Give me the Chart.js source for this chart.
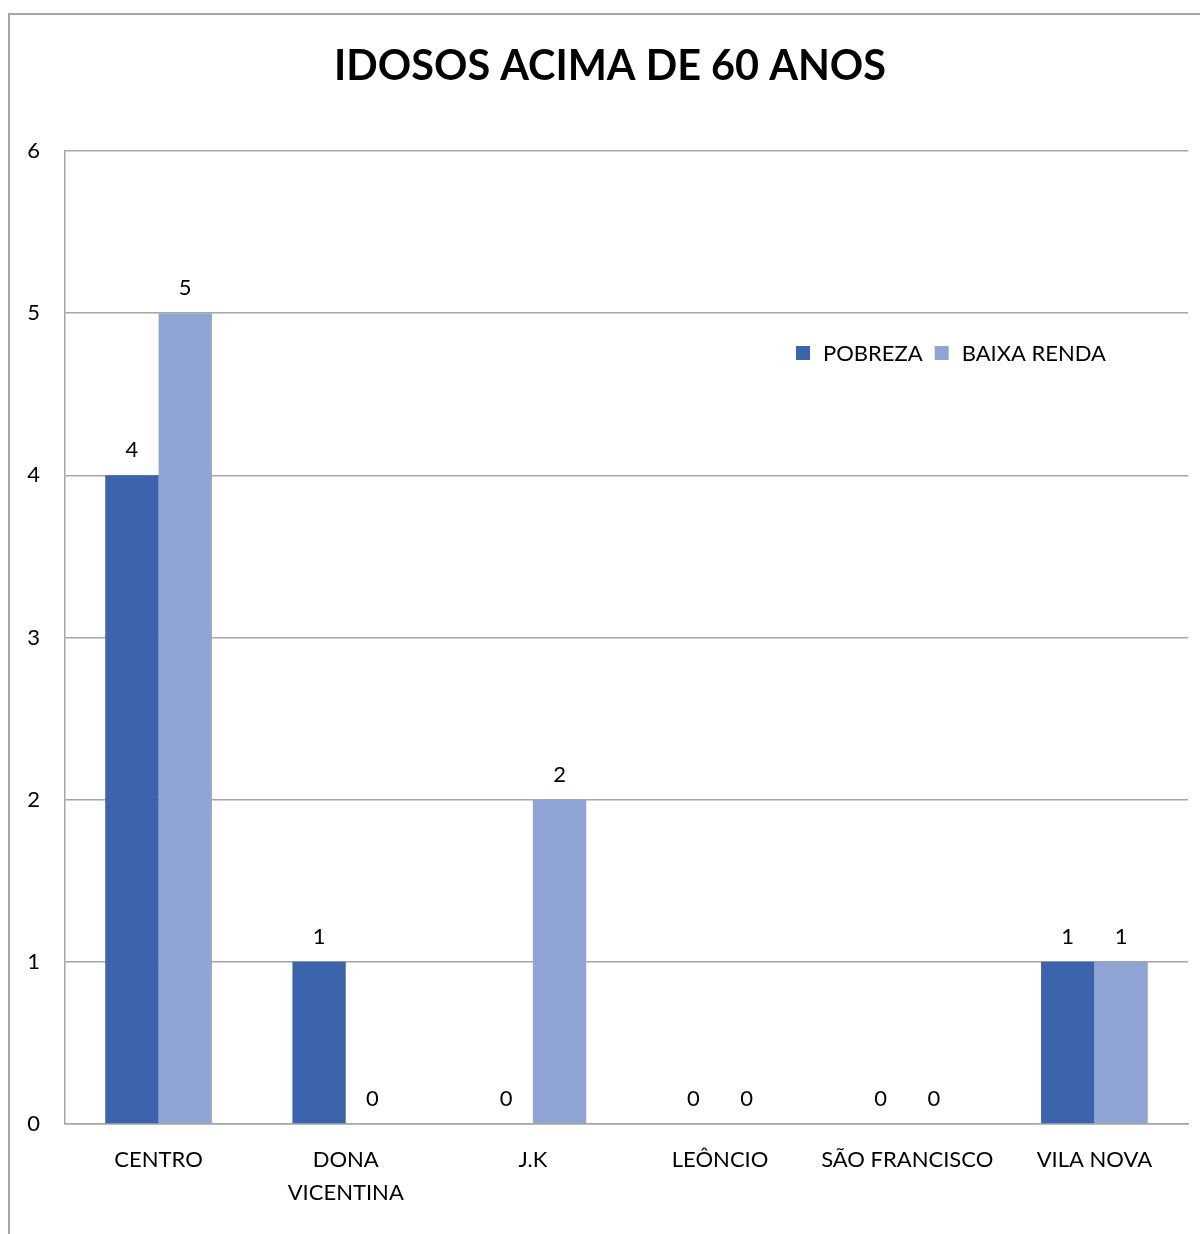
<!DOCTYPE html>
<html><head><meta charset="utf-8">
<script src="https://cdn.jsdelivr.net/npm/chart.js@4"></script>
<style>
html,body{margin:0;padding:0;background:#fff;}
#wrap{position:relative;width:1200px;height:1234px;}
#frame{position:absolute;left:8px;top:13px;width:1200px;height:1240px;border-left:2px solid #A6A6A6;border-top:2px solid #A6A6A6;box-sizing:border-box;}
canvas{position:absolute;left:0;top:0;}
</style></head>
<body><div id="wrap"><div id="frame"></div><canvas id="c" width="1200" height="1234"></canvas></div>
<script>
const title = 'IDOSOS ACIMA DE 60 ANOS';
const categories = ['CENTRO', ['DONA','VICENTINA'], 'J.K', 'LEÔNCIO', 'SÃO FRANCISCO', 'VILA NOVA'];
const seriesNames = ['POBREZA', 'BAIXA RENDA'];
const pobreza = [4, 1, 0, 0, 0, 1];
const baixaRenda = [5, 0, 2, 0, 0, 1];
const yTicks = [0, 1, 2, 3, 4, 5, 6];

const colors = ['#3C64AD', '#91A5D5'];
const FONT = 'Lato, "Open Sans", sans-serif';

const overlay = {
  id: 'overlay',
  afterDraw(chart) {
    const ctx = chart.ctx;
    ctx.save();
    // title
    let size = 44;
    ctx.font = `bold ${size}px ${FONT}`;
    const w = ctx.measureText(title).width;
    size = Math.min(48, size * 552 / w);
    ctx.font = `bold ${size}px ${FONT}`;
    ctx.fillStyle = '#000';
    ctx.textAlign = 'center';
    ctx.textBaseline = 'middle';
    ctx.fillText(title, 610, 67);
    // data labels
    ctx.font = `22px ${FONT}`;
    ctx.textBaseline = 'alphabetic';
    chart.data.datasets.forEach((ds, i) => {
      const meta = chart.getDatasetMeta(i);
      meta.data.forEach((bar, j) => {
        ctx.fillText(String(ds.data[j]), bar.x, bar.y - 18);
      });
    });
    // legend
    ctx.textAlign = 'left';
    ctx.textBaseline = 'middle';
    let x = 796; const y = 353;
    chart.data.datasets.forEach((ds, i) => {
      ctx.fillStyle = ds.backgroundColor;
      ctx.fillRect(x, y - 7, 14, 14);
      ctx.fillStyle = '#000';
      ctx.fillText(ds.label, x + 27, y + 1);
      x += 27 + ctx.measureText(ds.label).width + 12;
    });
    ctx.restore();
  }
};

new Chart(document.getElementById('c'), {
  type: 'bar',
  data: {
    labels: categories,
    datasets: [
      { label: seriesNames[0], data: pobreza, backgroundColor: colors[0] },
      { label: seriesNames[1], data: baixaRenda, backgroundColor: colors[1] }
    ]
  },
  options: {
    responsive: false,
    animation: false,
    devicePixelRatio: 1,
    layout: { padding: { top: 151, right: 12, left: 0, bottom: 0 } },
    plugins: { legend: { display: false }, title: { display: false }, tooltip: { enabled: false } },
    datasets: { bar: { categoryPercentage: 0.57, barPercentage: 1.0 } },
    scales: {
      x: {
        grid: { display: false, drawTicks: false },
        border: { display: true, color: '#A6A6A6', width: 1.5 },
        ticks: { color: '#000', font: { family: FONT, size: 22, lineHeight: 1.5 }, padding: 19, maxRotation: 0, autoSkip: false },
        afterFit(s) { s.height = 110; }
      },
      y: {
        min: 0, max: 6,
        afterBuildTicks(s) { s.ticks = yTicks.map(v => ({ value: v })); },
        grid: { color: '#A6A6A6', lineWidth: 1.5, drawTicks: false },
        border: { display: true, color: '#A6A6A6', width: 1.5 },
        ticks: { color: '#000', font: { family: FONT, size: 22 }, padding: 25 },
        afterFit(s) { s.width = 65; }
      }
    }
  },
  plugins: [overlay]
});
</script>
</body></html>
